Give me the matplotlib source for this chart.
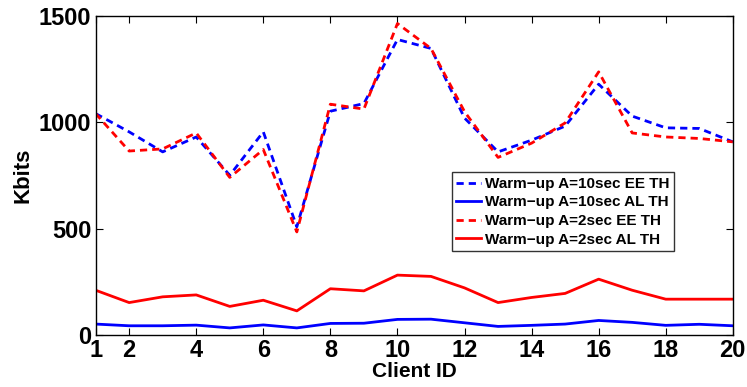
import matplotlib
matplotlib.use("Agg")
import matplotlib.pyplot as plt

client_id = list(range(1, 21))
ee_10 = [1041, 955, 861, 931, 751, 955, 509, 1052, 1088, 1389, 1347, 1020, 861, 916, 982, 1179, 1029, 974, 971, 908]
al_10 = [52, 44, 44, 47, 34, 48, 34, 55, 56, 74, 75, 58, 41, 46, 52, 69, 60, 46, 51, 44]
ee_2 = [1041, 865, 875, 950, 741, 872, 485, 1085, 1062, 1464, 1347, 1050, 835, 902, 997, 1237, 950, 931, 924, 908]
al_2 = [211, 153, 180, 189, 135, 164, 114, 218, 208, 282, 276, 222, 153, 177, 196, 263, 211, 169, 169, 169]
labels = ["Warm\u2212up A=10sec EE TH", "Warm\u2212up A=10sec AL TH",
          "Warm\u2212up A=2sec EE TH", "Warm\u2212up A=2sec AL TH"]
xticks = [1, 2, 4, 6, 8, 10, 12, 14, 16, 18, 20]
yticks = [0, 500, 1000, 1500]

plt.rcParams['font.family'] = ['Liberation Sans', 'DejaVu Sans']
plt.rcParams['font.weight'] = 'bold'

fig = plt.figure(figsize=(7.47, 3.87), dpi=100)
ax = fig.add_axes([0.128, 0.134, 0.853, 0.825])

dash = (2.6, 1.8)
ax.plot(client_id, ee_10, color='#0000ff', lw=2, linestyle=(0, dash), label=labels[0])
ax.plot(client_id, al_10, color='#0000ff', lw=2, linestyle='-', label=labels[1])
ax.plot(client_id, ee_2, color='#ff0000', lw=2, linestyle=(0, dash), label=labels[2])
ax.plot(client_id, al_2, color='#ff0000', lw=2, linestyle='-', label=labels[3])

ax.set_xlim(1, 20)
ax.set_ylim(0, 1500)
ax.set_xticks(xticks)
ax.set_yticks(yticks)
ax.tick_params(direction='in', top=True, right=True, labelsize=17, length=5, width=0.8, pad=3)
for lab in ax.get_xticklabels() + ax.get_yticklabels():
    lab.set_fontweight('bold')
for s in ax.spines.values():
    s.set_linewidth(1.0)
ax.set_xlabel("Client ID", fontsize=15, fontweight='bold', labelpad=0)
ax.set_ylabel("Kbits", fontsize=16, fontweight='bold', labelpad=4)

leg = ax.legend(loc='upper left', bbox_to_anchor=(0.559, 0.51), fontsize=11,
                frameon=True, fancybox=False, edgecolor='black', handlelength=1.6,
                handletextpad=0.25, borderpad=0.3, labelspacing=0.3, borderaxespad=0)
leg.get_frame().set_linewidth(1.0)
for t in leg.get_texts():
    t.set_fontweight('bold')

fig.savefig("out.png", dpi=100)
